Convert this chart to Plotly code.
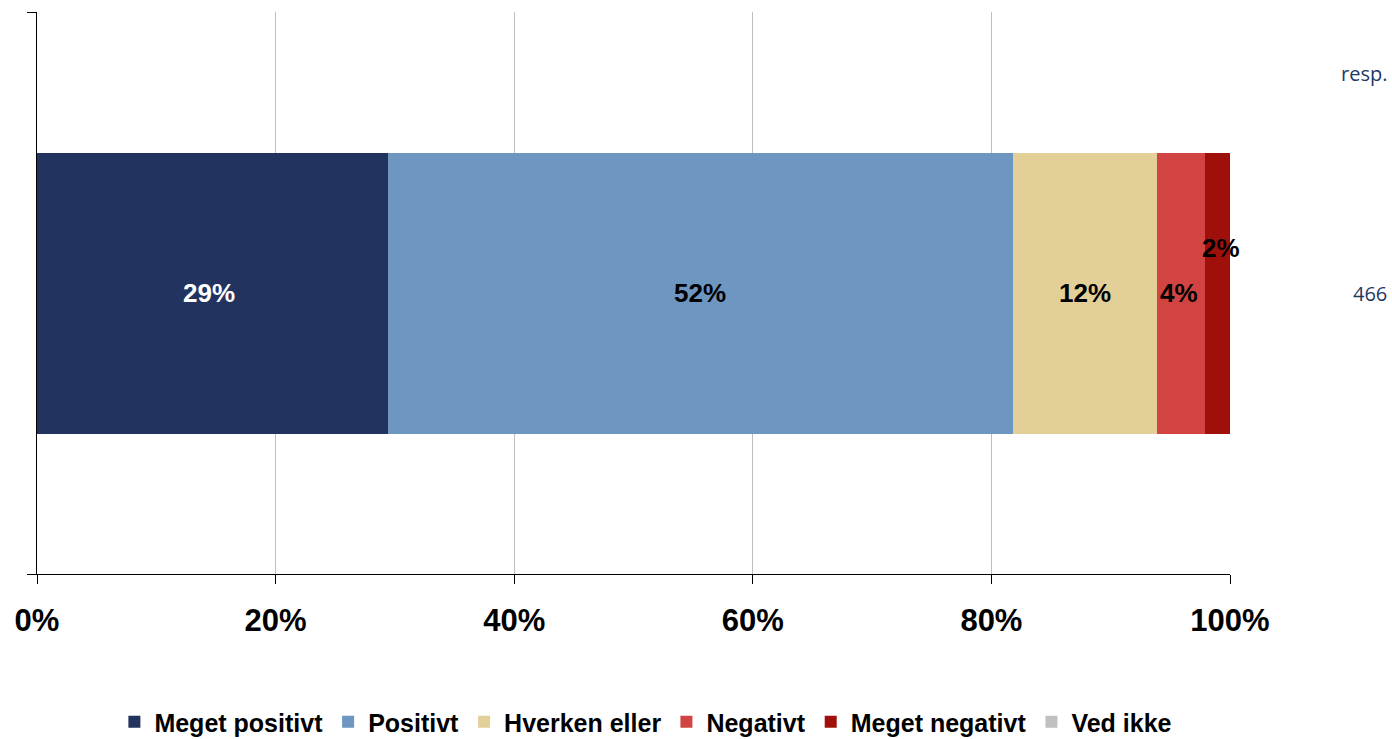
import plotly.graph_objects as go

categories = ["Meget positivt", "Positivt", "Hverken eller", "Negativt", "Meget negativt", "Ved ikke"]
values = [29.4, 52.4, 12.1, 4.0, 2.1, 0.0]
colors = ["#21335E", "#6D96C0", "#E3D098", "#D24442", "#A0100A", "#C0C0C0"]
label_colors = ["white", "black", "black", "black", "black", "black"]
label_yshift = [0, 0, 0, 0, 45, 0]
label_xshift = [-3, 0, 0, -2, 4, 0]
respondents = "466"
tick_vals = [0, 20, 40, 60, 80, 100]
tick_text = ["0%", "20%", "40%", "60%", "80%", "100%"]

FONT = "Arial, Liberation Sans, sans-serif"

fig = go.Figure()
for cat, v, c in zip(categories, values, colors):
    fig.add_trace(go.Bar(
        x=[v], y=[0], orientation="h", name=cat,
        marker=dict(color=c, line=dict(width=0)),
        width=0.5, hoverinfo="skip", showlegend=True,
    ))

annotations = []
cum = 0.0
for v, lc, ys, xs in zip(values, label_colors, label_yshift, label_xshift):
    if v > 0:
        annotations.append(dict(
            x=cum + v / 2, y=0, xref="x", yref="y", text=f"{v:.0f}%",
            showarrow=False, yshift=ys, xshift=xs,
            font=dict(family=FONT, size=26, color=lc, weight="bold"),
        ))
    cum += v

annotations.append(dict(
    x=1.1335, y=0.891, xref="paper", yref="paper", text="resp.",
    showarrow=False, xanchor="right", yanchor="middle",
    font=dict(family="Open Sans, sans-serif", size=20, color="#1F3864"),
))
annotations.append(dict(
    x=1.1335, y=0, xref="paper", yref="y", text=respondents,
    showarrow=False, xanchor="right", yanchor="middle",
    font=dict(family="Open Sans, sans-serif", size=20, color="#1F3864"),
))

fig.update_layout(
    barmode="stack",
    width=1392, height=739,
    margin=dict(l=37, r=162, t=12, b=165, autoexpand=False),
    plot_bgcolor="white", paper_bgcolor="white",
    annotations=annotations,
    legend=dict(
        orientation="h", xref="container", yref="container",
        x=0.464, xanchor="center", y=0.023, yanchor="middle",
        font=dict(family=FONT, size=25, color="black", weight="bold"),
        traceorder="normal", itemwidth=30,
    ),
    xaxis=dict(
        range=[0, 100], tickmode="array", tickvals=tick_vals, ticktext=tick_text,
        showgrid=True, gridcolor="#BFBFBF", gridwidth=1,
        showline=True, linecolor="black", linewidth=1,
        ticks="outside", ticklen=9, tickcolor="black",
        ticklabelstandoff=10, automargin=False,
        tickfont=dict(family=FONT, size=31, color="black", weight="bold"),
        zeroline=False, fixedrange=True,
    ),
    yaxis=dict(
        range=[-0.5, 0.5], tickmode="array", tickvals=[-0.5, 0.5],
        showticklabels=False, showgrid=False, zeroline=False,
        showline=True, linecolor="black", linewidth=1, automargin=False,
        ticks="outside", ticklen=9, tickcolor="black", fixedrange=True,
    ),
)

fig.write_html("out.html", config={"displayModeBar": False},
               post_script="document.body.style.margin='0';")
